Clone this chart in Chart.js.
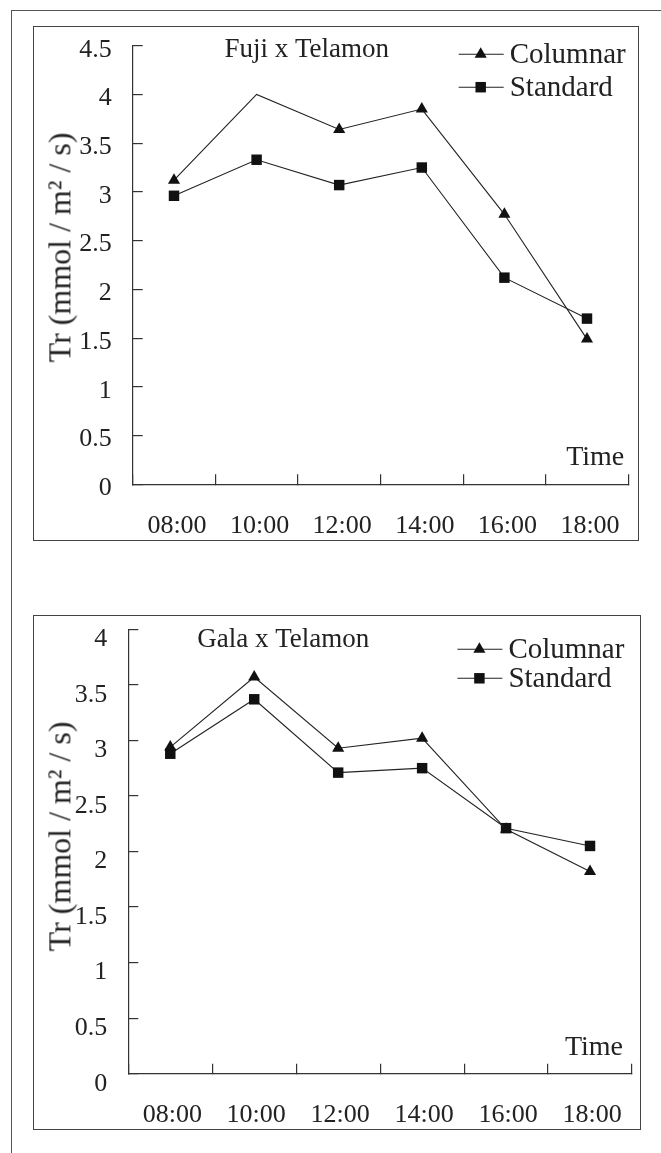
<!DOCTYPE html>
<html>
<head>
<meta charset="utf-8">
<title>Tr (mmol / m2 / s)</title>
<script src="https://cdn.jsdelivr.net/npm/chart.js"></script>
<style>
    body { margin: 0; background: #fff; }
    #page { position: relative; width: 661px; height: 1153px; overflow: hidden; }
    #frame { position: absolute; left: 11px; top: 10px; width: 700px; height: 1200px;
             border-top: 1.5px solid #555; border-left: 1.5px solid #555; }
    .box { position: absolute; border: 1px solid #444; }
    .box canvas { display: block; }
    .ytitle { position: absolute; font-family: 'Liberation Serif', serif; font-size: 32px; color: #222;
              white-space: nowrap; transform: rotate(-90deg); transform-origin: center center; }
</style>
</head>
<body>
<div id="page">
    <div id="frame"></div>
    <div class="box" style="left:33px; top:26px; width:604px; height:513px;">
        <canvas id="fuji"></canvas>
    </div>
    <div class="box" style="left:33px; top:615px; width:606px; height:513px;">
        <canvas id="gala"></canvas>
    </div>
</div>

<script>
    // values
    const times = ['08:00', '10:00', '12:00', '14:00', '16:00', '18:00']
    const fujiColumnar = [3.12, 4.0, 3.64, 3.85, 2.77, 1.49]
    const fujiStandard = [2.96, 3.33, 3.07, 3.25, 2.12, 1.70]
    const galaColumnar = [2.94, 3.57, 2.93, 3.02, 2.20, 1.82]
    const galaStandard = [2.88, 3.37, 2.71, 2.75, 2.21, 2.05]
    const fujiTicks = [0, 0.5, 1, 1.5, 2, 2.5, 3, 3.5, 4, 4.5]
    const galaTicks = [0, 0.5, 1, 1.5, 2, 2.5, 3, 3.5, 4]
    const yTitle = 'Tr (mmol / m\u00B2 / s)'

    const serif = "'Liberation Serif', 'DejaVu Serif', serif"
    const ink = '#222'
    const axisColor = '#333'
    Chart.defaults.font.family = serif
    Chart.defaults.color = ink

    // panel title, "Time" and the line+marker legend, placed relative to the chart area
    const notesPlugin = {
        id: 'notes',
        afterDraw(chart, args, o) {
            const ctx = chart.ctx
            const a = chart.chartArea
            ctx.save()
            ctx.fillStyle = ink
            ctx.textBaseline = 'middle'
            ctx.font = '27px ' + serif
            ctx.textAlign = 'center'
            ctx.fillText(o.title, a.left + o.titleX, a.top + o.titleY)
            ctx.font = '28px ' + serif
            ctx.textAlign = 'right'
            ctx.fillText('Time', a.right + o.timeX, a.bottom + o.timeY)

            ctx.font = '29px ' + serif
            ctx.textAlign = 'left'
            chart.data.datasets.forEach((ds, i) => {
                const y = a.top + o.legendY + i * o.legendGap
                const x0 = a.right + o.legendX
                ctx.strokeStyle = ds.borderColor
                ctx.lineWidth = ds.borderWidth
                ctx.beginPath()
                ctx.moveTo(x0, y)
                ctx.lineTo(x0 + 45, y)
                ctx.stroke()
                ctx.fillStyle = ds.pointBackgroundColor
                Chart.helpers.drawPoint(ctx, {pointStyle: ds.pointStyle, radius: ds.legendRadius, rotation: 0, borderWidth: 0}, x0 + 22, y)
                ctx.fillStyle = ink
                ctx.fillText(ds.label, x0 + 51, y + 1)
            })
            ctx.restore()
        }
    }

    function drawPanel(id, columnar, standard, yTicks, geo) {
        return new Chart(document.getElementById(id), {
            type: 'line',
            data: {
                labels: times,
                datasets: [{
                    label: 'Columnar',
                    data: columnar,
                    borderColor: '#222',
                    borderWidth: 1.1,
                    pointStyle: 'triangle',
                    pointBackgroundColor: '#111',
                    pointBorderWidth: 0,
                    pointRadius: c => geo.noMarker.includes(c.dataIndex) ? 0 : 7,
                    legendRadius: 7,
                    tension: 0,
                    fill: false,
                    clip: false
                }, {
                    label: 'Standard',
                    data: standard,
                    borderColor: '#222',
                    borderWidth: 1.1,
                    pointStyle: 'rect',
                    pointBackgroundColor: '#111',
                    pointBorderWidth: 0,
                    pointRadius: 7.4,
                    legendRadius: 7.4,
                    tension: 0,
                    fill: false,
                    clip: false
                }]
            },
            options: {
                animation: false,
                responsive: true,
                maintainAspectRatio: false,
                layout: {padding: {left: 0, top: geo.top, right: geo.right, bottom: 0}},
                scales: {
                    x: {
                        offset: true,
                        grid: {offset: true, drawOnChartArea: false, tickLength: -10, color: axisColor, lineWidth: 1.2},
                        border: {color: axisColor, width: 1.2},
                        ticks: {padding: 36, labelOffset: geo.xShift, maxRotation: 0, autoSkip: false, color: ink, font: {size: 26}},
                        afterFit(s) {
                            s.height = geo.xAxisH
                            s.paddingLeft = 0
                            s.paddingRight = 0
                        }
                    },
                    y: {
                        min: 0,
                        max: yTicks[yTicks.length - 1],
                        afterBuildTicks(s) {
                            s.ticks = yTicks.map(v => ({value: v}))
                        },
                        grid: {drawOnChartArea: false, tickLength: -10, color: axisColor, lineWidth: 1.2},
                        border: {color: axisColor, width: 1.2},
                        ticks: {padding: 31, labelOffset: geo.yShift, color: ink, font: {size: 26}, callback: v => String(v)},
                        afterFit(s) {
                            s.width = geo.left
                            s.paddingTop = 0
                            s.paddingBottom = 0
                        }
                    }
                },
                plugins: {
                    legend: {display: false},
                    tooltip: {enabled: false},
                    notes: geo.notes
                }
            },
            plugins: [notesPlugin]
        })
    }

    drawPanel('fuji', fujiColumnar, fujiStandard, fujiTicks, {
        left: 98.7, top: 18.7, right: 9.7, xAxisH: 55.7, xShift: 3, yShift: 4, noMarker: [1],
        notes: {title: 'Fuji x Telamon', titleX: 174, titleY: 4, timeX: -4, timeY: -26.5,
                legendX: -169.6, legendY: 8.5, legendGap: 33}
    })
    drawPanel('gala', galaColumnar, galaStandard, galaTicks, {
        left: 94.3, top: 13.3, right: 8, xAxisH: 55.3, xShift: 2, yShift: 10, noMarker: [],
        notes: {title: 'Gala x Telamon', titleX: 155, titleY: 11, timeX: -9, timeY: -26,
                legendX: -174.6, legendY: 20, legendGap: 29}
    })
</script>

<!-- rotated y axis titles sit over the tick-label gap, as in the figure -->
<div class="ytitle" id="yt1"></div>
<div class="ytitle" id="yt2"></div>
<script>
    const yt1 = document.getElementById('yt1')
    const yt2 = document.getElementById('yt2')
    yt1.textContent = yTitle
    yt2.textContent = yTitle
    // centre of the rotated text: x ~ 60, y ~ 247 (top) and 836 (bottom)
    for (const [el, cy] of [[yt1, 247], [yt2, 836]]) {
        const w = el.offsetWidth, h = el.offsetHeight
        el.style.left = (60 - w / 2) + 'px'
        el.style.top = (cy - h / 2) + 'px'
    }
</script>
</body>
</html>
